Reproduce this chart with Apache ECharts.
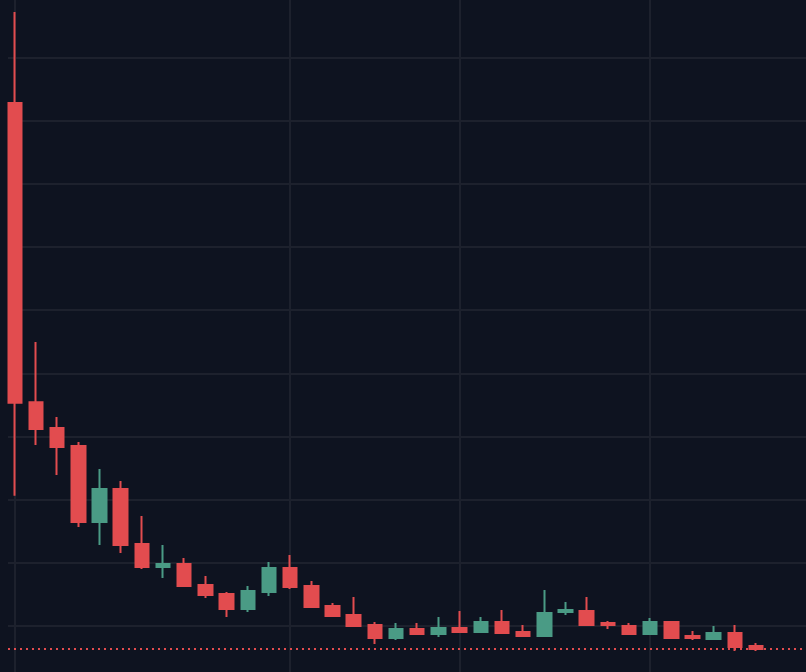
<!DOCTYPE html>
<html>
<head>
<meta charset="utf-8">
<script src="https://cdn.jsdelivr.net/npm/echarts@6/dist/echarts.min.js"></script>
<style>
  html, body { margin: 0; padding: 0; background: #0e1320; overflow: hidden; width: 806px; height: 672px; }
  #chart { position: absolute; left: 0; top: -20px; width: 806px; height: 712px; }
</style>
</head>
<body>
<div id="chart"></div>
<script>
// Candle values (price units), one entry per session
const openPrices  = [92.82, 45.40, 41.32, 38.47, 26.43, 31.66, 22.94, 19.30, 19.77, 16.45, 15.02, 12.64,
                     15.34, 19.14, 16.29, 13.12, 11.69, 10.11, 8.05, 9.48, 8.68, 9.63, 9.00, 10.58,
                     9.00, 8.37, 12.17, 12.33, 10.43, 9.95, 8.68, 10.58, 8.37, 7.89, 8.84, 6.78];
const closePrices = [45.33, 41.17, 38.31, 26.43, 31.66, 22.79, 19.30, 19.77, 16.29, 14.86, 12.64, 15.50,
                     19.14, 16.13, 12.96, 11.54, 9.95, 8.05, 9.48, 8.68, 9.63, 9.00, 10.58, 8.84,
                     8.37, 12.01, 12.49, 10.11, 10.11, 8.68, 10.58, 8.05, 8.05, 8.84, 6.62, 6.30];
const lowPrices   = [30.60, 38.63, 33.88, 25.64, 22.79, 21.52, 18.98, 17.56, 16.29, 14.39, 11.38, 12.17,
                     14.70, 15.81, 12.96, 11.38, 9.79, 7.10, 7.73, 8.68, 8.21, 9.00, 9.00, 8.84,
                     8.37, 8.37, 11.69, 10.11, 9.46, 8.68, 8.68, 8.05, 7.73, 7.89, 5.99, 5.99];
const highPrices  = [107.24, 54.95, 43.07, 39.11, 34.83, 32.93, 27.38, 22.79, 20.73, 17.87, 15.34, 16.29,
                     20.09, 21.20, 17.08, 13.60, 14.55, 10.58, 10.43, 10.43, 11.38, 12.33, 11.38, 12.49,
                     10.11, 15.66, 13.75, 14.55, 10.74, 10.43, 11.22, 10.74, 9.16, 9.95, 10.11, 7.26];
// Sessions where a vertical time grid line is drawn
const timeGridSessions = [0, 13, 21, 30];
// Price scale
const priceMin = 0, priceMax = 110, priceStep = 10;

const UP = '#4a9b85', DOWN = '#e24c4f', GRIDC = '#1d212d';

const candles = openPrices.map((o, i) => [i, o, closePrices[i], lowPrices[i], highPrices[i]]);
const lastClose = closePrices[closePrices.length - 1];

const chart = echarts.init(document.getElementById('chart'), null, { renderer: 'canvas' });
chart.setOption({
  backgroundColor: '#0e1320',
  animation: false,
  grid: { left: 8, right: 0, top: 14.6, bottom: 3.2 },
  xAxis: {
    type: 'value', min: -0.321, max: 37.356, show: false,
    splitLine: { show: false }
  },
  yAxis: {
    type: 'value', min: priceMin, max: priceMax, interval: priceStep,
    axisLine: { show: false }, axisTick: { show: false }, axisLabel: { show: false },
    splitLine: { show: true, lineStyle: { color: GRIDC, width: 2 } }
  },
  series: [
    {
      type: 'line', data: [], silent: true, z: 1,
      markLine: {
        silent: true, symbol: 'none', z: 1, animation: false,
        label: { show: false },
        lineStyle: { color: GRIDC, width: 2, type: 'solid' },
        data: timeGridSessions.map(v => ({ xAxis: v }))
      }
    },
    {
      type: 'candlestick',
      data: candles,
      encode: { x: 0, y: [1, 2, 3, 4] },
      barWidth: 14,
      z: 3,
      itemStyle: {
        color: UP, color0: DOWN,
        borderColor: UP, borderColor0: DOWN,
        borderWidth: 2
      }
    },
    {
      type: 'line', data: [], silent: true, z: 5,
      markLine: {
        silent: true, symbol: 'none', z: 5, animation: false,
        label: { show: false },
        lineStyle: { color: '#e24c4f', width: 2, type: [2, 4] },
        data: [{ yAxis: lastClose }]
      }
    }
  ]
});
</script>
</body>
</html>
